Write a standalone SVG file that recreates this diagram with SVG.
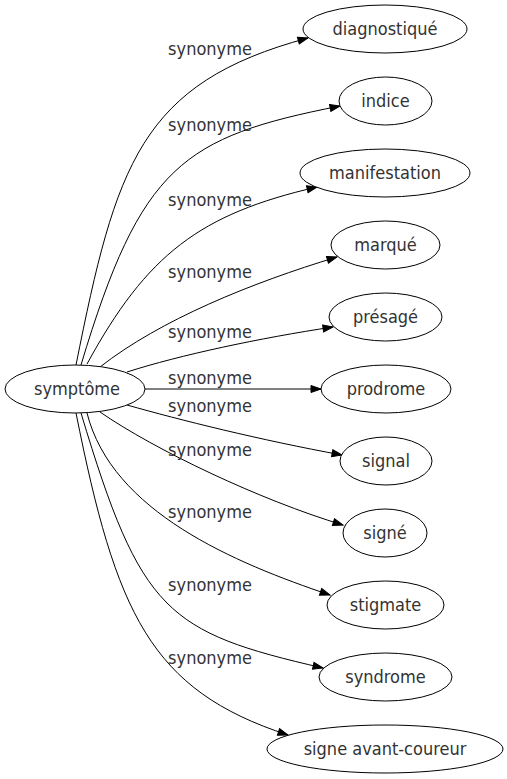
<svg xmlns="http://www.w3.org/2000/svg" width="507" height="779" viewBox="0 0 507 779">
<style>
text{font-family:"DejaVu Sans Condensed","DejaVu Sans",sans-serif;font-stretch:condensed;font-size:18px;fill:#333;text-anchor:middle}
ellipse{fill:#fff;stroke:#000;stroke-width:1}
.e path{fill:none;stroke:#000;stroke-width:1;marker-end:url(#ah)}
</style>
<defs>
<marker id="ah" markerUnits="userSpaceOnUse" markerWidth="10" markerHeight="7" refX="10" refY="3.5" orient="auto" overflow="visible">
<path d="M0,0 L10,3.5 L0,7 z" fill="#000" stroke="#000" stroke-width="1"/>
</marker>
</defs>
<rect width="507" height="779" fill="#fff"/>
<g class="e" id="edges">
<path d="M76,365 C116,165 140,83 308,38"/>
<path d="M81,365 C141,165 183,137 340,106"/>
<path d="M87,364 C147,254 200,214 317,187"/>
<path d="M100,367 C160,320 251,283 337,257"/>
<path d="M127,372 C180,355 260,338 333,327"/>
<path d="M145,389 L321,389"/>
<path d="M127,405 C180,420 260,440 342,455"/>
<path d="M100,412 C155,450 260,500 343,525"/>
<path d="M87,413 C112,512 235,563 330,595"/>
<path d="M81,413 C141,613 167,632 323,668"/>
<path d="M76,413 C116,613 150,690 288,735"/>
<text x="210" y="55">synonyme</text>
<text x="210" y="131">synonyme</text>
<text x="210" y="206">synonyme</text>
<text x="210" y="278">synonyme</text>
<text x="210" y="338">synonyme</text>
<text x="210" y="384">synonyme</text>
<text x="210" y="412">synonyme</text>
<text x="210" y="456">synonyme</text>
<text x="210" y="518">synonyme</text>
<text x="210" y="591">synonyme</text>
<text x="210" y="664">synonyme</text>
</g>
<g id="n0"><ellipse cx="75" cy="389" rx="70" ry="24"/><text x="77" y="395">symptôme</text></g>
<g id="n1"><ellipse cx="385" cy="29" rx="82" ry="24"/><text x="385" y="35">diagnostiqué</text></g>
<g id="n2"><ellipse cx="385.5" cy="101" rx="46.5" ry="24"/><text x="385.5" y="107">indice</text></g>
<g id="n3"><ellipse cx="385" cy="173" rx="85" ry="24"/><text x="385" y="179">manifestation</text></g>
<g id="n4"><ellipse cx="385.5" cy="245" rx="54.5" ry="24"/><text x="385.5" y="251">marqué</text></g>
<g id="n5"><ellipse cx="385.5" cy="317" rx="56.5" ry="24"/><text x="385.5" y="323">présagé</text></g>
<g id="n6"><ellipse cx="386" cy="389" rx="65" ry="24"/><text x="386" y="395">prodrome</text></g>
<g id="n7"><ellipse cx="386" cy="461" rx="46" ry="24"/><text x="386" y="467">signal</text></g>
<g id="n8"><ellipse cx="385" cy="533" rx="42" ry="24"/><text x="385" y="539">signé</text></g>
<g id="n9"><ellipse cx="385.5" cy="605" rx="58.5" ry="24"/><text x="385.5" y="611">stigmate</text></g>
<g id="n10"><ellipse cx="385.5" cy="677" rx="66.5" ry="24"/><text x="385.5" y="683">syndrome</text></g>
<g id="n11"><ellipse cx="385" cy="749" rx="118" ry="24"/><text x="385" y="755">signe avant-coureur</text></g>
</svg>
